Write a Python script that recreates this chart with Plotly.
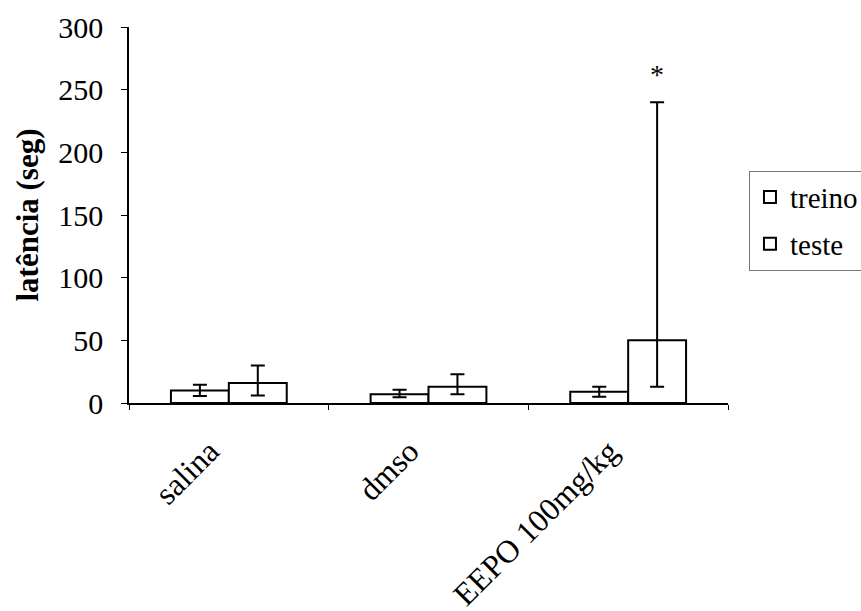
import plotly.graph_objects as go

categories = ["salina", "dmso", "EEPO 100mg/kg"]
treino = [10, 7, 9]
treino_plus = [4.5, 3.5, 4]
treino_minus = [4.5, 2.5, 4]
teste = [16, 13, 50]
teste_plus = [14, 10, 190]
teste_minus = [10, 6, 37]
y_ticks = [0, 50, 100, 150, 200, 250, 300]

FONT = "Liberation Serif"

fig = go.Figure()
for i, (name, vals, plus, minus) in enumerate([("treino", treino, treino_plus, treino_minus),
                                               ("teste", teste, teste_plus, teste_minus)]):
    fig.add_trace(go.Bar(
        name=name, x=categories, y=vals, legendgroup=f"g{i}",
        marker=dict(color="white", line=dict(color="black", width=2)),
        error_y=dict(type="data", symmetric=False, array=plus, arrayminus=minus,
                     color="black", thickness=2, width=7),
    ))

fig.add_annotation(x=categories[2], y=248, xshift=29, text="*", showarrow=False,
                   yanchor="bottom", font=dict(family=FONT, size=28, color="black"))

fig.update_layout(
    width=861, height=611,
    margin=dict(l=129, r=133, t=27, b=208, autoexpand=False),
    plot_bgcolor="white", paper_bgcolor="white",
    barmode="group", bargap=0.42, bargroupgap=0,
    font=dict(family=FONT, size=30, color="black"),
    legend=dict(x=1.035, y=0.618, xanchor="left", yanchor="top",
                bordercolor="#777", borderwidth=1, font=dict(size=29),
                traceorder="grouped", tracegroupgap=6),
    xaxis=dict(showline=True, linecolor="black", linewidth=1.5, ticks="outside",
               tickson="boundaries", ticklen=5, tickcolor="black", tickangle=-45,
               showgrid=False, tickfont=dict(size=32),
               ticklabelstandoff=15, ticklabelshift=-19),
    yaxis=dict(range=[0, 300], tickvals=y_ticks, showline=True, linecolor="black",
               linewidth=1.5, ticks="outside", ticklen=6, tickcolor="black",
               showgrid=False, zeroline=False, tickfont=dict(size=30),
               ticklabelstandoff=12,
               title=dict(text="<b>latência (seg)</b>", font=dict(size=31), standoff=10)),
)

fig.write_html("out.html")
